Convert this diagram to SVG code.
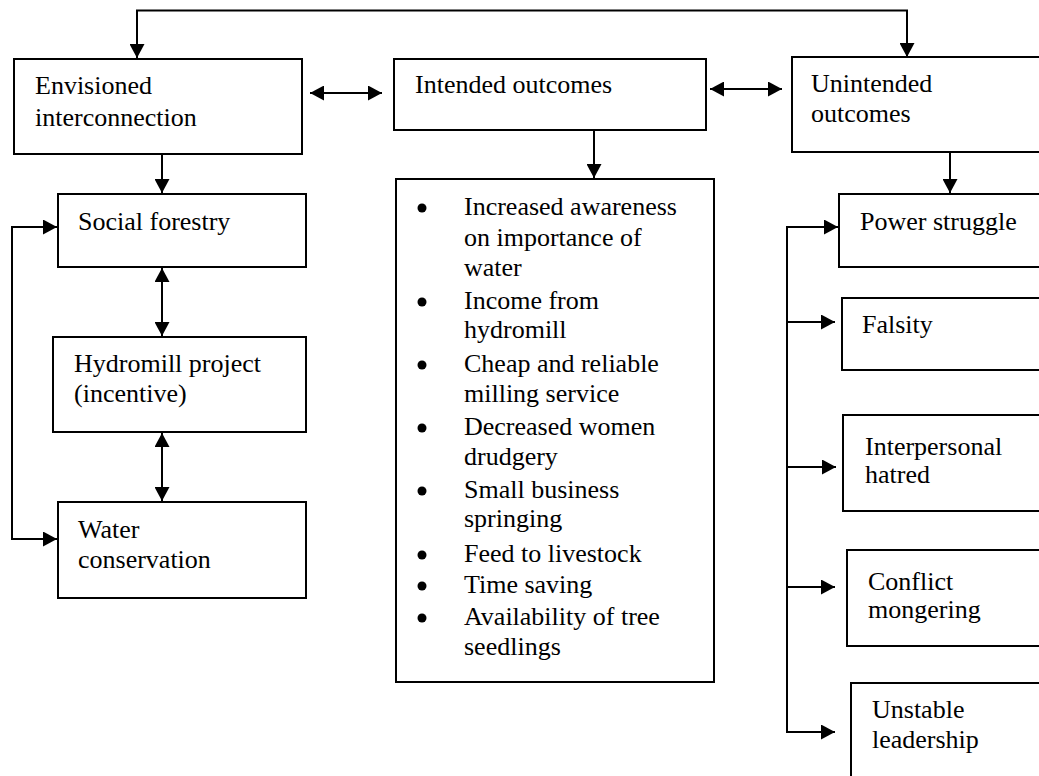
<svg xmlns="http://www.w3.org/2000/svg" width="1039" height="776" viewBox="0 0 1039 776" font-family="Liberation Serif, Times New Roman, DejaVu Serif, serif">
<style>
  .box { fill: #ffffff; stroke: #000000; stroke-width: 2; }
  text { font-family: 'Liberation Serif', 'Times New Roman', 'DejaVu Serif', serif; font-size: 26px; fill: #000000; }
  .ln { fill: none; stroke: #000000; stroke-width: 2; }
  .dot { fill: #000000; }
</style>
<defs>
  <marker id="ah" viewBox="0 0 14 15" refX="14" refY="7.5" markerWidth="14" markerHeight="15" markerUnits="userSpaceOnUse" orient="auto-start-reverse">
    <path d="M0,0 L14,7.5 L0,15 Z" fill="#000000"/>
  </marker>
</defs>
<rect width="1039" height="776" fill="#ffffff"/>

<g id="connectors">
  <path class="ln" d="M137,58 V10.5 H907 V57" marker-start="url(#ah)" marker-end="url(#ah)"/>
  <path class="ln" d="M310,93 H382" marker-start="url(#ah)" marker-end="url(#ah)"/>
  <path class="ln" d="M710,89 H782" marker-start="url(#ah)" marker-end="url(#ah)"/>
  <path class="ln" d="M162,154 V193" marker-end="url(#ah)"/>
  <path class="ln" d="M594,130 V178" marker-end="url(#ah)"/>
  <path class="ln" d="M950,152 V193" marker-end="url(#ah)"/>
  <path class="ln" d="M162,268 V336" marker-start="url(#ah)" marker-end="url(#ah)"/>
  <path class="ln" d="M162,433 V501" marker-start="url(#ah)" marker-end="url(#ah)"/>
  <path class="ln" d="M57,227 H12 V539 H57" marker-start="url(#ah)" marker-end="url(#ah)"/>
  <path class="ln" d="M787,226 V733"/>
  <path class="ln" d="M786,227 H838" marker-end="url(#ah)"/>
  <path class="ln" d="M786,322 H835" marker-end="url(#ah)"/>
  <path class="ln" d="M786,467 H836" marker-end="url(#ah)"/>
  <path class="ln" d="M786,587 H835" marker-end="url(#ah)"/>
  <path class="ln" d="M786,732 H835" marker-end="url(#ah)"/>
</g>

<g id="envisioned">
  <rect class="box" x="14" y="59" width="288" height="95"/>
  <text x="35" y="94">Envisioned</text>
  <text x="35" y="126">interconnection</text>
</g>
<g id="intended">
  <rect class="box" x="394" y="59" width="312" height="71"/>
  <text x="415" y="93">Intended outcomes</text>
</g>
<g id="unintended">
  <rect class="box" x="792" y="57" width="270" height="95"/>
  <text x="811" y="92">Unintended</text>
  <text x="811" y="122">outcomes</text>
</g>
<g id="social-forestry">
  <rect class="box" x="58" y="194" width="248" height="73"/>
  <text x="78" y="230">Social forestry</text>
</g>
<g id="hydromill">
  <rect class="box" x="53" y="337" width="253" height="95"/>
  <text x="74" y="372">Hydromill project</text>
  <text x="74" y="402">(incentive)</text>
</g>
<g id="water">
  <rect class="box" x="58" y="502" width="248" height="96"/>
  <text x="78" y="538">Water</text>
  <text x="78" y="568">conservation</text>
</g>
<g id="intended-list">
  <rect class="box" x="396" y="179" width="318" height="503"/>
  <circle class="dot" cx="422" cy="208" r="4.5"/>
  <circle class="dot" cx="422" cy="302" r="4.5"/>
  <circle class="dot" cx="422" cy="365" r="4.5"/>
  <circle class="dot" cx="422" cy="428" r="4.5"/>
  <circle class="dot" cx="422" cy="491" r="4.5"/>
  <circle class="dot" cx="422" cy="555" r="4.5"/>
  <circle class="dot" cx="422" cy="586" r="4.5"/>
  <circle class="dot" cx="422" cy="618" r="4.5"/>
  <text x="464" y="215">Increased awareness</text>
  <text x="464" y="246">on importance of</text>
  <text x="464" y="276">water</text>
  <text x="464" y="309">Income from</text>
  <text x="464" y="338">hydromill</text>
  <text x="464" y="372">Cheap and reliable</text>
  <text x="464" y="402">milling service</text>
  <text x="464" y="435">Decreased women</text>
  <text x="464" y="465">drudgery</text>
  <text x="464" y="498">Small business</text>
  <text x="464" y="527">springing</text>
  <text x="464" y="562">Feed to livestock</text>
  <text x="464" y="593">Time saving</text>
  <text x="464" y="625">Availability of tree</text>
  <text x="464" y="655">seedlings</text>
</g>
<g id="power-struggle">
  <rect class="box" x="839" y="194" width="220" height="73"/>
  <text x="860" y="230">Power struggle</text>
</g>
<g id="falsity">
  <rect class="box" x="842" y="298" width="220" height="72"/>
  <text x="862" y="333">Falsity</text>
</g>
<g id="interpersonal-hatred">
  <rect class="box" x="843" y="415" width="220" height="96"/>
  <text x="865" y="455">Interpersonal</text>
  <text x="865" y="483">hatred</text>
</g>
<g id="conflict-mongering">
  <rect class="box" x="847" y="550" width="220" height="96"/>
  <text x="868" y="590">Conflict</text>
  <text x="868" y="618">mongering</text>
</g>
<g id="unstable-leadership">
  <rect class="box" x="851" y="683" width="220" height="120"/>
  <text x="872" y="718">Unstable</text>
  <text x="872" y="748">leadership</text>
</g>
</svg>
